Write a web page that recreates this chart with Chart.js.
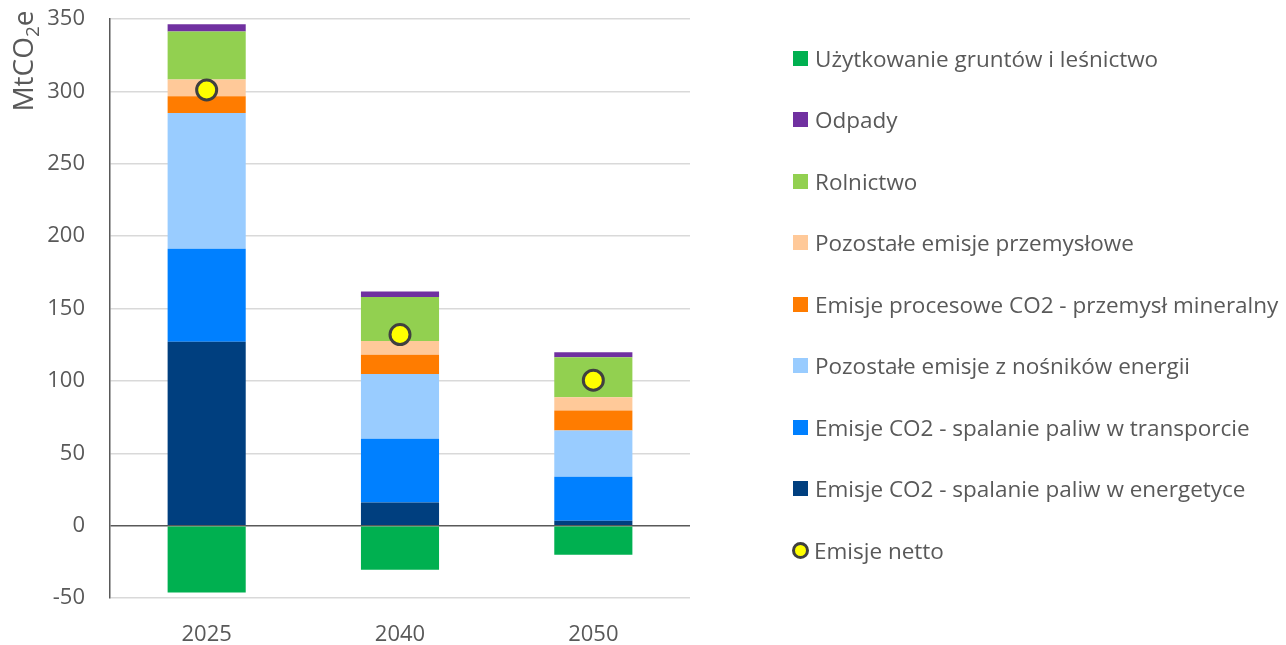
<!DOCTYPE html>
<html>
<head>
<meta charset="utf-8">
<script src="https://cdn.jsdelivr.net/npm/chart.js@4.4.1/dist/chart.umd.min.js"></script>
<style>
  html, body { margin: 0; padding: 0; background: #fff; }
  #wrap { position: relative; width: 1286px; height: 645px; }
  #chart { position: absolute; left: 0; top: 0; }
  #legend { position: absolute; left: 793px; top: 0; font-family: "Open Sans", sans-serif; font-size: 22.5px; color: #595959; }
  .item { position: absolute; left: 0; white-space: nowrap; display: flex; align-items: center; height: 30px; }
  .box { width: 15px; height: 15px; margin-right: 7px; flex: none; }
  .dot { width: 11px; height: 11px; border: 3px solid #404040; border-radius: 50%; background: #ffff00; margin-right: 5px; box-sizing: content-box; margin-left: -1px; }
</style>
</head>
<body>
<div id="wrap">
  <canvas id="chart" width="1286" height="645"></canvas>
  <div id="legend"></div>
</div>
<script>
// categories and values (MtCO2e)
const years = ['2025', '2040', '2050'];
const energetyka = [127, 16, 3.3];
const transport = [64.3, 44, 30.4];
const pozostaleEnergia = [93.7, 44.8, 32];
const procesowe = [11.7, 13.2, 13.8];
const pozostalePrzem = [11.5, 9.6, 9.2];
const rolnictwo = [33.1, 30.4, 27.7];
const odpady = [5.1, 3.7, 3.4];
const lulucf = [-46.2, -30.5, -20.2];
const netto = [301, 132, 100.5];
const yTicks = [-50, 0, 50, 100, 150, 200, 250, 300, 350];

const series = [
    { label: 'Emisje CO2 - spalanie paliw w energetyce', data: energetyka, color: '#003f7f' },
    { label: 'Emisje CO2 - spalanie paliw w transporcie', data: transport, color: '#0080ff' },
    { label: 'Pozostałe emisje z nośników energii', data: pozostaleEnergia, color: '#99ccff' },
    { label: 'Emisje procesowe CO2 - przemysł mineralny', data: procesowe, color: '#ff7c00' },
    { label: 'Pozostałe emisje przemysłowe', data: pozostalePrzem, color: '#ffc999' },
    { label: 'Rolnictwo', data: rolnictwo, color: '#92d050' },
    { label: 'Odpady', data: odpady, color: '#7030a0' },
    { label: 'Użytkowanie gruntów i leśnictwo', data: lulucf, color: '#00b050' }
];

const gray = '#595959';
const font = { family: '"Open Sans", sans-serif', size: 22 };

const datasets = series.map(s => ({
    type: 'bar',
    label: s.label,
    data: s.data,
    backgroundColor: s.color,
    borderWidth: 0,
    barPercentage: 0.404,
    categoryPercentage: 1,
    order: 1
}));
datasets.push({
    type: 'line',
    label: 'Emisje netto',
    data: netto,
    showLine: false,
    pointRadius: 10,
    pointHoverRadius: 10,
    pointBackgroundColor: '#ffff00',
    pointBorderColor: '#404040',
    pointBorderWidth: 3,
    order: 0
});

// y axis title with subscript 2
const yTitle = {
    id: 'yTitle',
    afterDraw(chart) {
        const ctx = chart.ctx;
        ctx.save();
        ctx.translate(33, 61);
        ctx.rotate(-Math.PI / 2);
        ctx.fillStyle = gray;
        ctx.textBaseline = 'alphabetic';
        const big = '28px "Open Sans", sans-serif';
        const small = '19px "Open Sans", sans-serif';
        ctx.font = big;
        const w1 = ctx.measureText('MtCO').width;
        ctx.font = small;
        const w2 = ctx.measureText('2').width;
        ctx.font = big;
        const w3 = ctx.measureText('e').width;
        let x = -(w1 + w2 + w3) / 2;
        ctx.fillText('MtCO', x, 0);
        x += w1;
        ctx.font = small;
        ctx.fillText('2', x, 6);
        x += w2;
        ctx.font = big;
        ctx.fillText('e', x, 0);
        ctx.restore();
    }
};

new Chart(document.getElementById('chart'), {
    data: { labels: years, datasets },
    options: {
        responsive: false,
        animation: false,
        layout: { padding: { left: 0, right: 596, top: 19, bottom: 0 } },
        plugins: { legend: { display: false }, tooltip: { enabled: false } },
        scales: {
            x: {
                stacked: true,
                grid: { display: false, drawTicks: false },
                border: { display: false },
                ticks: { color: gray, font, padding: 24 },
                afterFit(scale) { scale.height = 47; }
            },
            y: {
                stacked: true,
                min: -50,
                max: 350,
                afterBuildTicks(scale) { scale.ticks = yTicks.map(v => ({ value: v })); },
                afterFit(scale) {
                    scale.width = 110;
                    scale.paddingTop = 0;
                    scale.paddingBottom = 0;
                },
                grid: {
                    drawTicks: false,
                    color: c => c.tick && c.tick.value === 0 ? gray : '#d9d9d9',
                    lineWidth: 1.5
                },
                border: { display: true, color: gray, width: 1.5 },
                ticks: { color: gray, font, padding: 25 }
            }
        }
    },
    plugins: [yTitle]
});

// legend in reference order
const legendItems = [
    { label: 'Użytkowanie gruntów i leśnictwo', color: '#00b050' },
    { label: 'Odpady', color: '#7030a0' },
    { label: 'Rolnictwo', color: '#92d050' },
    { label: 'Pozostałe emisje przemysłowe', color: '#ffc999' },
    { label: 'Emisje procesowe CO2 - przemysł mineralny', color: '#ff7c00' },
    { label: 'Pozostałe emisje z nośników energii', color: '#99ccff' },
    { label: 'Emisje CO2 - spalanie paliw w transporcie', color: '#0080ff' },
    { label: 'Emisje CO2 - spalanie paliw w energetyce', color: '#003f7f' },
    { label: 'Emisje netto', dot: true }
];
const legend = document.getElementById('legend');
legendItems.forEach((it, i) => {
    const row = document.createElement('div');
    row.className = 'item';
    row.style.top = (58 + i * 61.5 - 15) + 'px';
    const mark = document.createElement('span');
    if (it.dot) mark.className = 'dot';
    else { mark.className = 'box'; mark.style.background = it.color; }
    const txt = document.createElement('span');
    txt.textContent = it.label;
    row.appendChild(mark);
    row.appendChild(txt);
    legend.appendChild(row);
});
</script>
</body>
</html>
